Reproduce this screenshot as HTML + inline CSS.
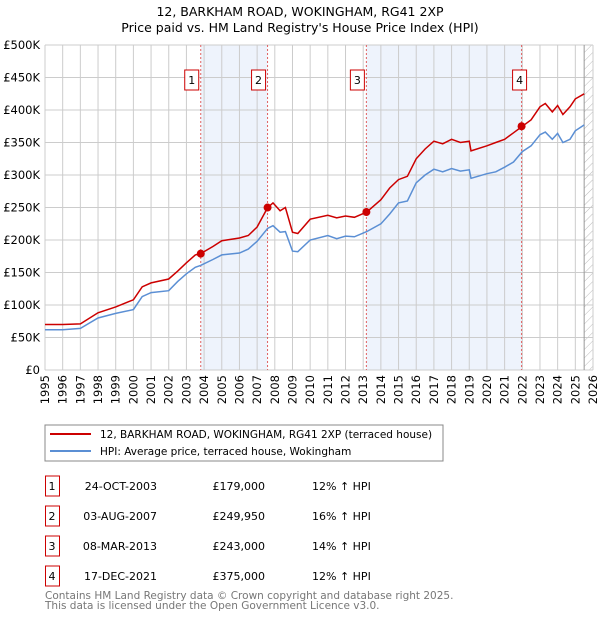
<!DOCTYPE html>
<html><head><meta charset="utf-8"><style>
body{margin:0;width:600px;height:620px;background:#fff;font-family:"Liberation Sans","DejaVu Sans",sans-serif;overflow:hidden}
svg text{font-family:"DejaVu Sans","Liberation Sans",sans-serif}
</style></head><body>
<svg id="c" width="600" height="620" xmlns="http://www.w3.org/2000/svg">
<text x="300" y="16" text-anchor="middle" font-size="12.5">12, BARKHAM ROAD, WOKINGHAM, RG41 2XP</text>
<text x="300" y="32" text-anchor="middle" font-size="12.5">Price paid vs. HM Land Registry's House Price Index (HPI)</text>
<defs><pattern id="h" width="6" height="6" patternUnits="userSpaceOnUse" patternTransform="rotate(45)"><line x1="0" y1="0" x2="0" y2="6" stroke="#bbb" stroke-width="1"/></pattern></defs>
<g id="plot"></g>
<rect x="45" y="425" width="398" height="36" fill="#fff" stroke="#888"/>
<line x1="50" y1="434" x2="91" y2="434" stroke="#cc0000" stroke-width="2"/>
<text x="100" y="438" font-size="10.5">12, BARKHAM ROAD, WOKINGHAM, RG41 2XP (terraced house)</text>
<line x1="50" y1="451" x2="91" y2="451" stroke="#5b8fd4" stroke-width="2"/>
<text x="100" y="455" font-size="10.5">HPI: Average price, terraced house, Wokingham</text>
<g id="tbl"></g>
<text x="45" y="599" font-size="10.5" fill="#777">Contains HM Land Registry data © Crown copyright and database right 2025.</text>
<text x="45" y="609" font-size="10.5" fill="#777">This data is licensed under the Open Government Licence v3.0.</text>
</svg>
<script>
const yearsX=[1995,1996,1997,1998,1999,2000,2000.5,2001,2002,2002.5,2003,2003.5,2003.8,2004.5,2005,2006,2006.5,2007,2007.6,2007.9,2008.3,2008.6,2009,2009.3,2010,2011,2011.5,2012,2012.5,2013.2,2014,2014.5,2015,2015.5,2016,2016.5,2017,2017.5,2018,2018.5,2019,2019.1,2020,2020.5,2021,2021.5,2022,2022.5,2023,2023.3,2023.7,2024,2024.3,2024.7,2025,2025.5];
const priceK=[70,70,71,88,97,108,128,134,140,152,165,177,179,190,199,203,207,220,250,257,245,250,212,210,232,238,234,237,235,243,262,280,293,298,325,340,352,348,355,350,352,337,345,350,355,365,375,385,405,410,397,407,393,405,417,425];
const hpiK=[62,62,64,80,87,93,113,119,122,136,148,158,161,170,177,180,186,198,218,222,212,213,183,182,200,207,202,206,205,213,225,240,257,260,288,300,309,305,310,306,308,295,302,305,312,320,336,345,362,366,355,364,350,355,368,377];
const saleLabels=["1","2","3","4"];
const saleYears=[2003.81,2007.59,2013.18,2021.96];
const saleK=[179,249.95,243,375];
const saleDates=["24-OCT-2003","03-AUG-2007","08-MAR-2013","17-DEC-2021"];
const salePrices=["£179,000","£249,950","£243,000","£375,000"];
const saleHpi=["12% ↑ HPI","16% ↑ HPI","14% ↑ HPI","12% ↑ HPI"];
const yTicks=[0,50,100,150,200,250,300,350,400,450,500];
const yTickLabels=["£0","£50K","£100K","£150K","£200K","£250K","£300K","£350K","£400K","£450K","£500K"];
const L=45,R=593,T=45,B=370,Y0=1995,Y1=2026;
const X=y=>L+(y-Y0)/(Y1-Y0)*(R-L);
const Yv=v=>B-v/500*(B-T);
const NS="http://www.w3.org/2000/svg";
const g=document.getElementById('plot');
function mk(p,t,a){const e=document.createElementNS(NS,t);for(const k in a)e.setAttribute(k,a[k]);p.appendChild(e);return e;}
let e;
e=mk(g,'rect',{x:X(saleYears[0]),y:T,width:X(saleYears[1])-X(saleYears[0]),height:B-T,fill:'#eef3fc'});


e=mk(g,'rect',{x:X(saleYears[2]),y:T,width:X(saleYears[3])-X(saleYears[2]),height:B-T,fill:'#eef3fc'});


e=mk(g,'rect',{x:X(2025.5),y:T,width:R-X(2025.5),height:B-T,fill:'url(#h)'});


for(let y=Y0;y<=Y1;y++){
 e=mk(g,'line',{x1:X(y),x2:X(y),y1:T,y2:B,stroke:'#ccc','stroke-width':1});
 
 
 e=mk(g,'text',{transform:`translate(${X(y)+4},${B+5}) rotate(-90)`,'text-anchor':'end','font-size':11.5});
 e.textContent=y;
 
 
}
yTicks.forEach((v,i)=>{
 e=mk(g,'line',{x1:L,x2:R,y1:Yv(v),y2:Yv(v),stroke:'#ccc','stroke-width':1});
 
 
 e=mk(g,'text',{x:L-5,y:Yv(v)+4,'text-anchor':'end','font-size':11.5});
 e.textContent=yTickLabels[i];
 
 
});
e=mk(g,'line',{x1:X(2025.5),x2:X(2025.5),y1:T,y2:B,stroke:'#999'});


saleYears.forEach((y,i)=>{
 e=mk(g,'line',{x1:X(y),x2:X(y),y1:T,y2:B,stroke:'#e06060','stroke-dasharray':'2,2'});
 
 
 const bx=X(y)-(i==3?3:10);
 e=mk(g,'rect',{x:bx-6,y:70,width:14,height:20,fill:'#fff',stroke:'#cc0000'});
 
 
 e=mk(g,'text',{x:bx+1,y:84,'text-anchor':'middle','font-size':11});
 e.textContent=saleLabels[i];
 
 
});
const pts=a=>yearsX.map((y,i)=>X(y).toFixed(1)+','+Yv(a[i]).toFixed(1)).join(' ');
e=mk(g,'polyline',{points:pts(hpiK),fill:'none',stroke:'#5b8fd4','stroke-width':1.5});


e=mk(g,'polyline',{points:pts(priceK),fill:'none',stroke:'#cc0000','stroke-width':1.5});


saleYears.forEach((y,i)=>{
 e=mk(g,'circle',{cx:X(y),cy:Yv(saleK[i]),r:4,fill:'#cc0000'});
 
 
});
const t=document.getElementById('tbl');
saleLabels.forEach((s,i)=>{
 const ry=476+i*30;
 e=mk(t,'rect',{x:45.5,y:ry,width:14,height:20,fill:'#fff',stroke:'#cc0000'});
 
 
 const cols=[[52,s,'middle'],[157,saleDates[i],'end'],[265,salePrices[i],'end'],[312,saleHpi[i],'start']];
 cols.forEach(c=>{
  e=mk(t,'text',{x:c[0],y:ry+14,'text-anchor':c[2],'font-size':11});
  e.textContent=c[1];
  
  
 });
});
</script>
</body></html>
